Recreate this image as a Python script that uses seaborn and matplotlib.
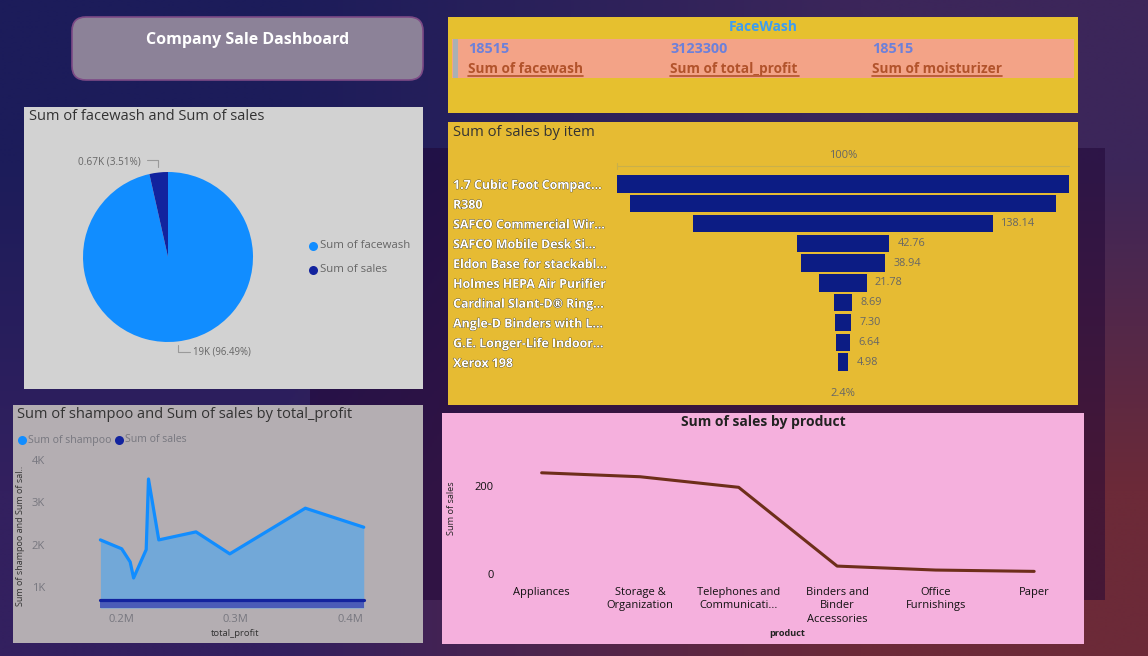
import numpy as np
import pandas as pd
import matplotlib
matplotlib.use("Agg")
import matplotlib.pyplot as plt
import matplotlib.patheffects as pe
from matplotlib.patches import Rectangle, FancyBboxPatch
import seaborn as sns

# ---- data ----
pie_labels = ["Sum of facewash", "Sum of sales"]
pie_values = [18515, 674]
pie_texts = ["19K (96.49%)", "0.67K (3.51%)"]

card_values = ["18515", "3123300", "18515"]
card_labels = ["Sum of facewash", "Sum of total_profit", "Sum of moisturizer"]

funnel_items = ["1.7 Cubic Foot Compac...", "R380", "SAFCO Commercial Wir...",
                "SAFCO Mobile Desk Si...", "Eldon Base for stackabl...",
                "Holmes HEPA Air Purifier", "Cardinal Slant-D® Ring...",
                "Angle-D Binders with L...", "G.E. Longer-Life Indoor...", "Xerox 198"]
funnel_values = [208.16, 196.0, 138.14, 42.76, 38.94, 21.78, 8.69, 7.30, 6.64, 4.98]
funnel_shown = ["", "", "138.14", "42.76", "38.94", "21.78", "8.69", "7.30", "6.64", "4.98"]

profit = [182000, 200600, 208000, 211000, 222000, 224000, 233000, 265500, 295000, 361000, 412000]
shampoo = [2110, 1900, 1590, 1210, 1880, 3550, 2110, 2300, 1780, 2860, 2410]
sales_by_profit = [700, 700, 700, 700, 700, 700, 700, 700, 700, 700, 700]
area_yticks = [1000, 2000, 3000, 4000]
area_yticklabels = ["1K", "2K", "3K", "4K"]
area_xticks = [200000, 300000, 400000]
area_xticklabels = ["0.2M", "0.3M", "0.4M"]

products = ["Appliances", "Storage &\nOrganization", "Telephones and\nCommunicati...",
            "Binders and\nBinder\nAccessories", "Office\nFurnishings", "Paper"]
product_sales = [230, 221, 197, 18, 9, 6]

# ---- style ----
sns.set_style("white")
plt.rcParams["font.family"] = ["Open Sans", "DejaVu Sans"]
W, H = 1148, 656
BLUE, NAVY = "#118DFF", "#12239E"
GREY = "#666666"
fig = plt.figure(figsize=(W / 100, H / 100), dpi=100)


def px_axes(l, t, r, b):
    ax = fig.add_axes([l / W, 1 - b / H, (r - l) / W, (b - t) / H])
    ax.patch.set_alpha(0)
    for s in ax.spines.values():
        s.set_visible(False)
    return ax


# ---- background and panels (pixel canvas) ----
bg = fig.add_axes([0, 0, 1, 1])
bg.axis("off")
corners = np.array([[[0x1c, 0x1c, 0x5a], [0x3c, 0x26, 0x5a]],
                    [[0x33, 0x20, 0x5f], [0x6c, 0x2a, 0x38]]], float) / 255
bg.imshow(corners, extent=(0, W, H, 0), aspect="auto", interpolation="bilinear", zorder=0)
bg.set_xlim(0, W)
bg.set_ylim(H, 0)
bg.add_patch(Rectangle((310, 148), 795, 452, fc="#200535", alpha=0.5, ec="none", zorder=1))


def panel(l, t, r, b, color):
    bg.add_patch(Rectangle((l, t), r - l, b - t, fc=color, ec="none", zorder=2))


def txt(x, y, s, size=8, color=GREY, ha="left", va="center", **kw):
    return bg.text(x, y, s, fontsize=size, color=color, ha=ha, va=va, zorder=5, **kw)


# title button
bg.add_patch(FancyBboxPatch((86, 31), 323, 35, boxstyle="round,pad=14,rounding_size=14",
                            fc="#8c8298", ec="#7d4a86", lw=1.2, zorder=2))
txt(248, 40, "Company Sale Dashboard", 11.5, "white", ha="center", fontweight="bold")

panel(24, 107, 423, 389, "#d2d2d2")
panel(448, 17, 1078, 113, "#e6c02f")
panel(448, 122, 1078, 405, "#e6bb33")
panel(13, 405, 423, 643, "#b4aeb2")
panel(442, 413, 1084, 644, "#f5b0dd")

# ---- KPI card ----
panel(452, 39, 1074, 78, "#f3a387")
panel(453, 39, 458, 78, "#a9b0b4")
txt(763, 27, "FaceWash", 10, "#3c9df2", ha="center", fontweight="bold")
for x, v, lab, w in zip([468, 670, 872], card_values, card_labels, [115, 129, 130]):
    txt(x, 49, v, 10.4, "#6c80da", fontweight="bold")
    txt(x, 69, lab, 9.8, "#b2532b", fontweight="bold")
    bg.plot([x, x + w], [76, 76], color="#b2532b", lw=1.2, zorder=5)

# ---- pie ----
txt(29, 116, "Sum of facewash and Sum of sales", 10.5, "#333333")
ax = px_axes(83, 172, 253, 342)
ax.pie(pie_values, colors=[BLUE, NAVY], startangle=90, counterclock=False, radius=1,
       wedgeprops={"linewidth": 0})
ax.set_xlim(-1, 1)
ax.set_ylim(-1, 1)
bg.plot([178, 178, 190], [345, 352, 352], color="#9a9a9a", lw=0.8, zorder=5)
bg.plot([158, 158, 147], [167, 160, 160], color="#9a9a9a", lw=0.8, zorder=5)
txt(193, 352, pie_texts[0], 6.9)
txt(78, 162, pie_texts[1], 7.2)
for y, lab, c in zip([246, 270], pie_labels, [BLUE, NAVY]):
    bg.plot([313], [y], "o", ms=6.5, color=c, mec="none", zorder=5)
    txt(320, y, lab, 8.2)

# ---- funnel ----
txt(453, 132, "Sum of sales by item", 10.6, "#333333")
txt(843, 155, "100%", 8, ha="center")
txt(843, 393, "2.4%", 8, ha="center")
bg.plot([617, 1069], [166, 166], color="#c9b04a", lw=0.8, zorder=3)
bg.plot([617, 617], [163, 169], color="#c9b04a", lw=0.8, zorder=3)
ax = px_axes(617, 174, 1069, 372)
fdf = pd.DataFrame({"item": funnel_items, "sales": funnel_values})
sns.barplot(data=fdf, y="item", x="sales", color="#0c1c84", saturation=1, width=0.88, ax=ax, orient="h")
half = max(funnel_values) / 2
for p in ax.patches:
    p.set_x(-p.get_width() / 2)
    p.set_linewidth(0)
ax.set_xlim(-half, half)
ax.set_xlabel("")
ax.set_ylabel("")
ax.set_xticks([])
ax.tick_params(axis="y", length=0, pad=118)
for t in ax.get_yticklabels():
    t.set_ha("left")
    t.set_color("white")
    t.set_fontsize(8.9)
    t.set_fontweight("bold")
    t.set_path_effects([pe.withStroke(linewidth=0.5, foreground="#3a3216")])
for i, (v, s) in enumerate(zip(funnel_values, funnel_shown)):
    if s:
        ax.annotate(s, (v / 2, i), xytext=(6, 0), textcoords="offset points",
                    va="center", fontsize=7.8, color=GREY)

# ---- area ----
txt(17, 415, "Sum of shampoo and Sum of sales by total_profit", 10.5, "#333333")
for x, lab, c in zip([22, 119], ["Sum of shampoo", "Sum of sales"], [BLUE, NAVY]):
    bg.plot([x], [440], "o", ms=6.5, color=c, mec="none", zorder=5)
    txt(x + 6, 440, lab, 7.6, "#77777f")
ax = px_axes(95, 450, 370, 608)
ax.set_xlim(200000 + (95 - 121) / 1145 * 1e6, 200000 + (370 - 121) / 1145 * 1e6)
ax.set_ylim(500, 4236)
adf = pd.DataFrame({"total_profit": profit, "shampoo": shampoo, "sales": sales_by_profit})
ax.fill_between(profit, shampoo, 500, color="#72a8d8", lw=0)
ax.fill_between(profit, sales_by_profit, 500, color="#4a5cb8", lw=0)
sns.lineplot(data=adf, x="total_profit", y="shampoo", color=BLUE, lw=2.3, ax=ax, estimator=None)
sns.lineplot(data=adf, x="total_profit", y="sales", color=NAVY, lw=2.3, ax=ax, estimator=None)
ax.set_xticks(area_xticks, area_xticklabels)
ax.set_yticks(area_yticks, area_yticklabels)
ax.tick_params(length=0, labelsize=8, labelcolor="#77777f")
ax.tick_params(axis="x", pad=4.5)
ax.tick_params(axis="y", pad=36)
ax.set_xlabel("")
ax.set_ylabel("")
txt(235, 633, "total_profit", 6.8, "#333333", ha="center")
txt(21, 536, "Sum of shampoo and Sum of sal..", 6.5, "#333333", ha="center", rotation=90)

# ---- line ----
txt(763, 422, "Sum of sales by product", 10, "#222222", ha="center", fontweight="bold")
ax = px_axes(492.4, 440, 1083.4, 580)
ldf = pd.DataFrame({"product": products, "sales": product_sales})
sns.lineplot(data=ldf, x="product", y="sales", color="#6e2e1a", lw=2.2, ax=ax, sort=False, estimator=None)
ax.set_xlim(-0.5, 5.5)
ax.set_ylim(-13.6, 304.5)
ax.set_yticks([0, 200])
ax.tick_params(length=0, labelsize=8, labelcolor="#111111")
ax.tick_params(axis="x", pad=5)
ax.tick_params(axis="y", pad=-1)
for t in ax.get_xticklabels():
    t.set_linespacing(1.3)
ax.set_xlabel("")
ax.set_ylabel("")
txt(787, 633, "product", 6.6, "#222222", ha="center", fontweight="bold")
txt(451, 508, "Sum of sales", 6.6, "#222222", ha="center", rotation=90)

fig.savefig("out.png", dpi=100)
